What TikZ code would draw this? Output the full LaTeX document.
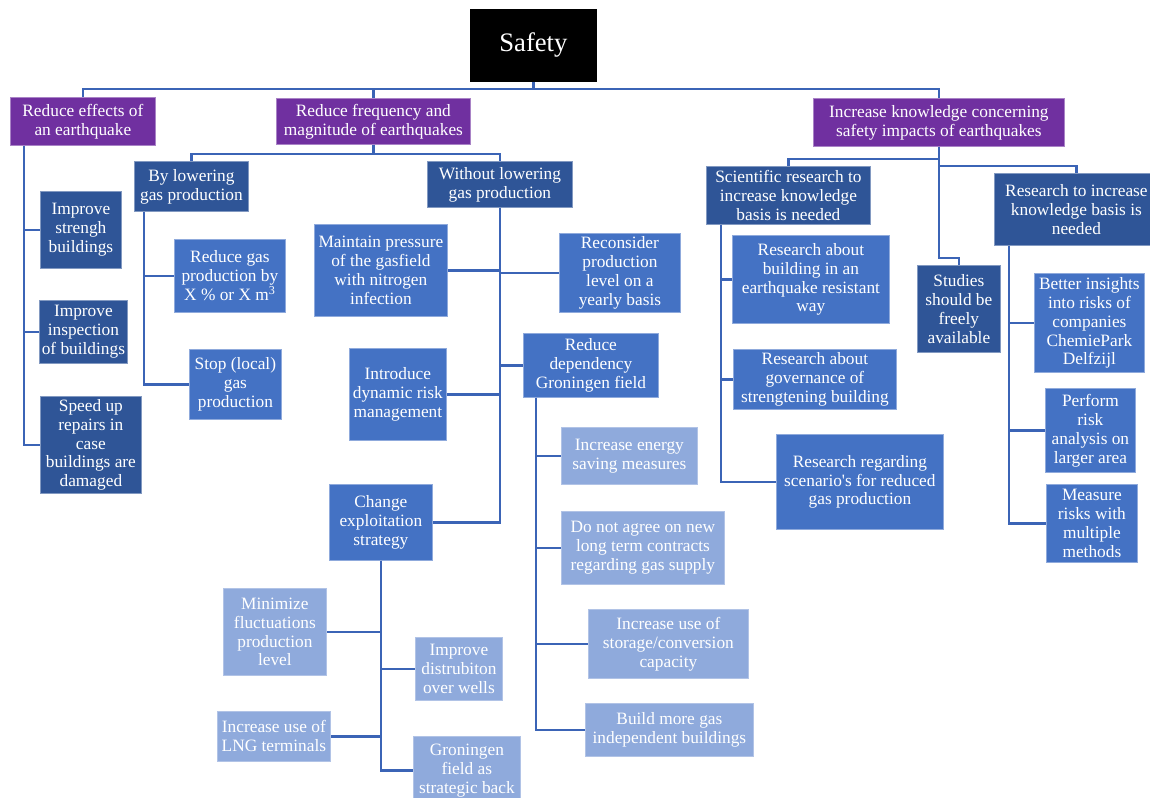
\documentclass[tikz,border=0pt]{standalone}
\usepackage{fontspec}
\setmainfont{Liberation Serif}
\usetikzlibrary{calc}
\definecolor{goalpurple}{RGB}{112,48,160}
\definecolor{darkblue}{RGB}{47,85,151}
\definecolor{medblue}{RGB}{68,114,196}
\definecolor{lightblue}{RGB}{143,170,220}
\definecolor{linkblue}{RGB}{59,100,182}

\begin{document}
\begin{tikzpicture}[x=0.75pt,y=0.75pt,yscale=-1,xscale=1,
  boxsize/.style 2 args={minimum width=#1*0.75pt, minimum height=#2*0.75pt},
  box/.style={anchor=north west, inner sep=1pt, align=center, text=white,
    font=\fontsize{13}{14.2}\selectfont, line width=0.6pt},
  topbox/.style={box, fill=black, draw=black, font=\fontsize{20}{24}\selectfont},
  goalbox/.style={box, fill=goalpurple, draw=goalpurple!60!white},
  darkbox/.style={box, fill=darkblue, draw=darkblue!60!white},
  medbox/.style={box, fill=medblue, draw=medblue!60!white},
  lightbox/.style={box, fill=lightblue, draw=lightblue!70!white},
  link/.style={draw=linkblue, line width=1.8pt}]
\useasboundingbox (0,0) rectangle (1150,797);

% Top level
\node (safety) [topbox, boxsize={126}{72}] at (470,9) {Safety};
\node (reff) [goalbox, boxsize={145}{48}] at (10,97) {Reduce effects of\\an earthquake};
\node (freq) [goalbox, boxsize={194}{46}] at (276,98) {Reduce frequency and\\magnitude of earthquakes};
\node (ikn) [goalbox, boxsize={251}{48}] at (813,98) {Increase knowledge concerning\\safety impacts of earthquakes};

% Reduce effects branch
\node (strengh) [darkbox, boxsize={81}{77}] at (40,191) {Improve\\strengh\\buildings};
\node (inspect) [darkbox, boxsize={88}{63}] at (39,300) {Improve\\inspection\\of buildings};
\node (speed) [darkbox, boxsize={101}{97}] at (40,396) {Speed up\\repairs in\\case\\buildings are\\damaged};

% Reduce frequency branch
\node (blow) [darkbox, boxsize={114}{50}] at (134,161) {By lowering\\gas production};
\node (redgas) [medbox, boxsize={111}{73}] at (174,239) {Reduce gas\\production by\\X \% or X m\textsuperscript{3}};
\node (stop) [medbox, boxsize={92}{70}] at (189,349) {Stop (local)\\gas\\production};
\node (wlow) [darkbox, boxsize={145}{46}] at (427,161) {Without lowering\\gas production};
\node (maint) [medbox, boxsize={133}{92}] at (314,224) {Maintain pressure\\of the gasfield\\with nitrogen\\infection};
\node (recons) [medbox, boxsize={121}{79}] at (559,233) {Reconsider\\production\\level on a\\yearly basis};
\node (intro) [medbox, boxsize={97}{92}] at (349,348) {Introduce\\dynamic risk\\management};
\node (reddep) [medbox, boxsize={135}{64}] at (523,333) {Reduce\\dependency\\Groningen field};
\node (change) [medbox, boxsize={103}{76}] at (329,484) {Change\\exploitation\\strategy};
\node (energy) [lightbox, boxsize={136}{57}] at (561,427) {Increase energy\\saving measures};
\node (noagree) [lightbox, boxsize={163}{73}] at (561,511) {Do not agree on new\\long term contracts\\regarding gas supply};
\node (storage) [lightbox, boxsize={160}{69}] at (588,609) {Increase use of\\storage/conversion\\capacity};
\node (build) [lightbox, boxsize={168}{53}] at (585,703) {Build more gas\\independent buildings};
\node (minim) [lightbox, boxsize={103}{87}] at (223,588) {Minimize\\fluctuations\\production\\level};
\node (distr) [lightbox, boxsize={87}{63}] at (415,637) {Improve\\distrubiton\\over wells};
\node (lng) [lightbox, boxsize={113}{50}] at (217,711) {Increase use of\\LNG terminals};
\node (gron) [lightbox, boxsize={107}{68}] at (413,736) {Groningen\\field as\\strategic back};

% Increase knowledge branch
\node (sci) [darkbox, boxsize={164}{58}] at (706,166) {Scientific research to\\increase knowledge\\basis is needed};
\node (rbuild) [medbox, boxsize={157}{88}] at (732,235) {Research about\\building in an\\earthquake resistant\\way};
\node (gov) [medbox, boxsize={163}{60}] at (733,349) {Research about\\governance of\\strengtening building};
\node (scen) [medbox, boxsize={167}{95}] at (776,434) {Research regarding\\scenario\textquotesingle s for reduced\\gas production};
\node (studies) [darkbox, boxsize={83}{87}] at (917,265) {Studies\\should be\\freely\\available};
\node (rti) [darkbox, boxsize={164}{72}] at (994,173) {Research to increase\\knowledge basis is\\needed};
\node (better) [medbox, boxsize={110}{99}] at (1034,273) {Better insights\\into risks of\\companies\\ChemiePark\\Delfzijl};
\node (perform) [medbox, boxsize={90}{84}] at (1045,388) {Perform\\risk\\analysis on\\larger area};
\node (measure) [medbox, boxsize={91}{78}] at (1046,484) {Measure\\risks with\\multiple\\methods};

% Connectors top
\draw [link] (safety.south) -- ++(0,7) -| (reff.north);
\draw [link] (safety.south) -- ++(0,7) -| (freq.north);
\draw [link] (safety.south) -- ++(0,7) -| (ikn.north);
\draw [link] (freq.south) -- ++(0,9) -| (blow.north);
\draw [link] (freq.south) -- ++(0,9) -| (wlow.north);
\draw [link] (ikn.south) -- ++(0,12) -| (sci.north);
\draw [link] (ikn.south) -- ++(0,19) -| (rti.north);
\draw [link] (ikn.south) -- ++(0,111) -| (studies.north);

% Connectors trunks
\foreach \child in {strengh,inspect,speed}
  \draw [link] ($(reff.south west)+(14,0)$) |- (\child.west);
\foreach \child in {redgas,stop}
  \draw [link] ($(blow.south west)+(10,0)$) |- (\child.west);
\foreach \child in {maint,intro}
  \draw [link] (wlow.south) |- (\child.east);
\foreach \child in {recons,reddep}
  \draw [link] (wlow.south) |- (\child.west);
\draw [link] (wlow.south) |- (change.east);
\foreach \child in {energy,noagree,storage,build}
  \draw [link] ($(reddep.south west)+(13,0)$) |- (\child.west);
\foreach \child in {minim,lng}
  \draw [link] (change.south) |- (\child.east);
\foreach \child in {distr,gron}
  \draw [link] (change.south) |- (\child.west);
\foreach \child in {rbuild,gov,scen}
  \draw [link] ($(sci.south west)+(15,0)$) |- (\child.west);
\foreach \child in {better,perform,measure}
  \draw [link] ($(rti.south west)+(15,0)$) |- (\child.west);

\end{tikzpicture}
\end{document}
